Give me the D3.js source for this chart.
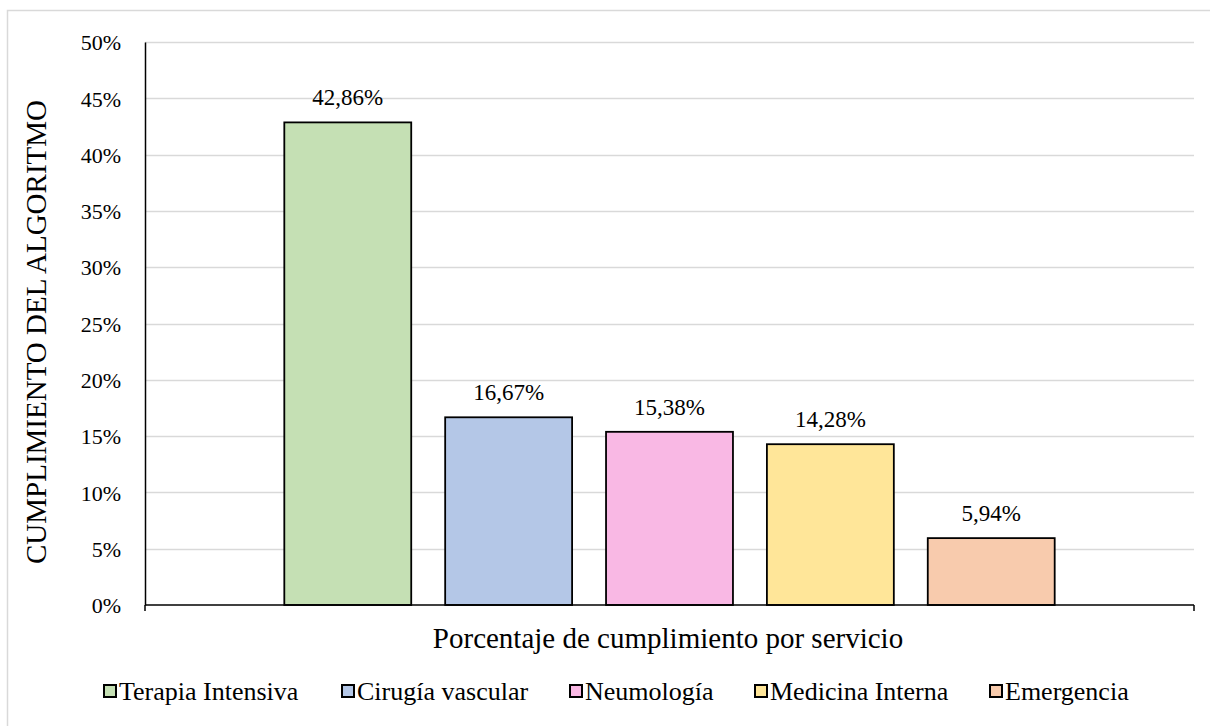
<!DOCTYPE html>
<html><head><meta charset="utf-8">
<script src="https://cdn.jsdelivr.net/npm/d3@7"></script>
<style>body{margin:0;background:#fff}svg{display:block}</style>
</head><body>
<script>
const services = ["Terapia Intensiva","Cirugía vascular","Neumología","Medicina Interna","Emergencia"];
const values = [42.86, 16.67, 15.38, 14.28, 5.94];
const valueLabels = ["42,86%","16,67%","15,38%","14,28%","5,94%"];
const colors = ["#c5e0b4","#b4c7e7","#f9b8e4","#ffe699","#f8cbad"];
const yTicks = [0,5,10,15,20,25,30,35,40,45,50];

const FONT = "Times New Roman, Liberation Serif, DejaVu Serif, serif";
const W=1210,H=726;
const svg=d3.select("body").append("svg").attr("width",W).attr("height",H);
svg.append("rect").attr("x",7.5).attr("y",10.5).attr("width",1250).attr("height",800).attr("fill","none").attr("stroke","#d9d9d9").attr("stroke-width",1.5);

const L=145,R=1194,T=42,B=605;
const y=d3.scaleLinear().domain([0,50]).range([B,T]);
const x=d3.scaleBand().domain(services).range([L,R]).paddingInner(0.211).paddingOuter(0.866);

svg.append("g").selectAll("line").data(yTicks.filter(d=>d>0)).join("line")
  .attr("x1",L).attr("x2",R).attr("y1",d=>Math.round(y(d))+0.5).attr("y2",d=>Math.round(y(d))+0.5)
  .attr("stroke","#d9d9d9").attr("stroke-width",1.5);

svg.append("g").selectAll("rect").data(values).join("rect")
  .attr("x",(d,i)=>x(services[i])).attr("width",x.bandwidth())
  .attr("y",d=>y(d)).attr("height",d=>B-y(d))
  .attr("fill",(d,i)=>colors[i]).attr("stroke","#000").attr("stroke-width",1.8);

svg.append("g").selectAll("text").data(values).join("text")
  .attr("x",(d,i)=>x(services[i])+x.bandwidth()/2).attr("y",d=>y(d)-17)
  .attr("text-anchor","middle").attr("font-family",FONT).attr("font-size",23).text((d,i)=>valueLabels[i]);

const yAxis=svg.append("g").attr("transform",`translate(${L},0)`)
  .call(d3.axisLeft(y).tickValues(yTicks).tickFormat(d=>d+"%").tickSize(0).tickPadding(24));
yAxis.attr("font-family",FONT).attr("font-size",22);
yAxis.select(".domain").attr("stroke","#000").attr("stroke-width",1.5);
yAxis.selectAll("text").attr("fill","#000").attr("dy","0.35em");

svg.append("line").attr("x1",L).attr("x2",R).attr("y1",B).attr("y2",B).attr("stroke","#000").attr("stroke-width",1.5);
svg.append("line").attr("x1",L).attr("x2",L).attr("y1",B).attr("y2",B+6).attr("stroke","#000").attr("stroke-width",1.5);
svg.append("line").attr("x1",R).attr("x2",R).attr("y1",B).attr("y2",B+6).attr("stroke","#000").attr("stroke-width",1.5);

svg.append("text").attr("x",668).attr("y",648).attr("text-anchor","middle").attr("font-family",FONT).attr("font-size",29).text("Porcentaje de cumplimiento por servicio");
svg.append("text").attr("transform",`translate(46,332) rotate(-90)`).attr("text-anchor","middle").attr("font-family",FONT).attr("font-size",29).text("CUMPLIMIENTO DEL ALGORITMO");

const legX=[103,341,569,754,989];
const lg=svg.append("g").selectAll("g").data(services).join("g").attr("transform",(d,i)=>`translate(${legX[i]},700)`);
lg.append("rect").attr("x",1).attr("y",-15).attr("width",12).attr("height",12).attr("fill",(d,i)=>colors[i]).attr("stroke","#000").attr("stroke-width",2);
lg.append("text").attr("x",16).attr("y",0).attr("font-family",FONT).attr("font-size",26).text(d=>d);
</script>
</body></html>
